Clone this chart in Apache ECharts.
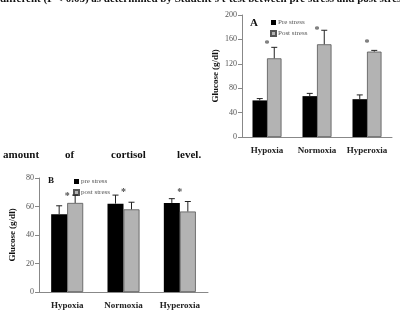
<!DOCTYPE html>
<html>
<head>
<meta charset="utf-8">
<script src="https://cdn.jsdelivr.net/npm/echarts@6/dist/echarts.min.js"></script>
<style>
  html, body { margin: 0; padding: 0; background: #fff; }
  #main { width: 400px; height: 322px; }
</style>
</head>
<body>
<div id="main"></div>
<script>
// data
var categories = ['Hypoxia', 'Normoxia', 'Hyperoxia'];

// panel A
var preA = [60, 67, 62];
var preAErr = [3, 4.5, 7];
var postA = [129, 152, 140];
var postAErr = [18, 23, 2];
var starA = [151, 174, 154];

// panel B
var preB = [54.5, 62, 62.5];
var preBErr = [6, 6, 3];
var postB = [62.5, 58, 56.5];
var postBErr = [5.5, 5, 7];
var starB = [67, 70, 70];

var serif = 'Liberation Serif';
var myChart = echarts.init(document.getElementById('main'));

function errData(vals, errs) {
    return vals.map(function (v, i) { return [i, v, errs[i]]; });
}
function starData(vals) {
    return vals.map(function (v, i) { return [i, v]; });
}

// upper whisker + cap above each bar
function makeErr(barW, side) {
    return function (params, api) {
        var c = api.value(0), v = api.value(1), e = api.value(2);
        var base = api.coord([c, v]);
        var top = api.coord([c, v + e]);
        var x = base[0] + side * barW / 2;
        return {
            type: 'group',
            children: [
                { type: 'line', shape: { x1: x, y1: base[1], x2: x, y2: top[1] },
                  style: { stroke: '#222', lineWidth: 1 } },
                { type: 'line', shape: { x1: x - 3, y1: top[1], x2: x + 3, y2: top[1] },
                  style: { stroke: '#222', lineWidth: 1 } }
            ]
        };
    };
}

function yAxisOf(gi, max, interval) {
    return {
        gridIndex: gi, type: 'value', min: 0, max: max, interval: interval,
        name: 'Glucose (g/dl)', nameLocation: 'middle', nameRotate: 90, nameGap: 22,
        nameTextStyle: { fontFamily: serif, fontWeight: 'bold', fontSize: 9, color: '#111' },
        axisLine: { show: true, lineStyle: { color: '#888' } },
        axisTick: { show: true, length: 4, lineStyle: { color: '#888' } },
        splitLine: { show: false },
        axisLabel: { fontFamily: serif, fontSize: 8, color: '#555', margin: 5 }
    };
}
function xAxisOf(gi) {
    return {
        gridIndex: gi, type: 'category', data: categories,
        axisLine: { lineStyle: { color: '#888' } },
        axisTick: { length: 3, lineStyle: { color: '#888' } },
        axisLabel: { interval: 0, fontFamily: serif, fontWeight: 'bold', fontSize: 9, color: '#222', margin: 9 }
    };
}
function legendOf(names, left, top) {
    return {
        data: names, orient: 'vertical', left: left, top: top,
        icon: 'rect', itemWidth: 5, itemHeight: 5, itemGap: 4,
        textStyle: { fontFamily: serif, fontSize: 7, color: '#555', padding: [0, 0, 0, -3] }
    };
}

var bwA = 14.5, bwB = 16;
var starLabel = { show: true, formatter: '*', position: 'inside', fontFamily: serif,
                  fontSize: 10, fontWeight: 'bold', color: '#222' };

myChart.setOption({
    animation: false,
    grid: [
        { left: 242, right: 8, top: 15, bottom: 185 },
        { left: 39, right: 192, top: 178, bottom: 30 }
    ],
    xAxis: [xAxisOf(0), xAxisOf(1)],
    yAxis: [yAxisOf(0, 200, 40), yAxisOf(1, 80, 20)],
    legend: [
        legendOf(['Pre stress', 'Post stress'], 265, 14),
        legendOf(['pre stress', 'post stress'], 68, 173)
    ],
    series: [
        { name: 'Pre stress', type: 'bar', xAxisIndex: 0, yAxisIndex: 0, data: preA,
          barWidth: bwA, barGap: 0, itemStyle: { color: '#000' } },
        { name: 'Post stress', type: 'bar', xAxisIndex: 0, yAxisIndex: 0, data: postA,
          barWidth: bwA, barGap: 0, itemStyle: { color: '#b3b3b3', borderColor: '#555', borderWidth: 0.8 } },
        { name: 'pre stress', type: 'bar', xAxisIndex: 1, yAxisIndex: 1, data: preB,
          barWidth: bwB, barGap: 0, itemStyle: { color: '#000' } },
        { name: 'post stress', type: 'bar', xAxisIndex: 1, yAxisIndex: 1, data: postB,
          barWidth: bwB, barGap: 0, itemStyle: { color: '#b3b3b3', borderColor: '#555', borderWidth: 0.8 } },
        { type: 'custom', xAxisIndex: 0, yAxisIndex: 0, renderItem: makeErr(bwA, -1),
          data: errData(preA, preAErr), z: 5 },
        { type: 'custom', xAxisIndex: 0, yAxisIndex: 0, renderItem: makeErr(bwA, 1),
          data: errData(postA, postAErr), z: 5 },
        { type: 'custom', xAxisIndex: 1, yAxisIndex: 1, renderItem: makeErr(bwB, -1),
          data: errData(preB, preBErr), z: 5 },
        { type: 'custom', xAxisIndex: 1, yAxisIndex: 1, renderItem: makeErr(bwB, 1),
          data: errData(postB, postBErr), z: 5 },
        { type: 'scatter', xAxisIndex: 0, yAxisIndex: 0, data: starData(starA), symbolSize: 0,
          label: starLabel },
        { type: 'scatter', xAxisIndex: 1, yAxisIndex: 1, data: starData(starB), symbolSize: 0,
          label: starLabel }
    ],
    graphic: [
        { type: 'text', left: 0, top: -6, style: {
            text: 'different (P < 0.05) as determined by Student\u2019s t-test between pre stress and post stres',
            fontFamily: serif, fontWeight: 'bold', fontSize: 11, fill: '#111' } },
        { type: 'text', x: 3, y: 150, style: { text: 'amount', fontFamily: serif, fontWeight: 'bold', fontSize: 11, fill: '#111' } },
        { type: 'text', x: 65, y: 150, style: { text: 'of', fontFamily: serif, fontWeight: 'bold', fontSize: 11, fill: '#111' } },
        { type: 'text', x: 111, y: 150, style: { text: 'cortisol', fontFamily: serif, fontWeight: 'bold', fontSize: 11, fill: '#111' } },
        { type: 'text', x: 177, y: 150, style: { text: 'level.', fontFamily: serif, fontWeight: 'bold', fontSize: 11, fill: '#111' } },
        { type: 'text', x: 250, y: 18, style: { text: 'A', fontFamily: serif, fontWeight: 'bold', fontSize: 11, fill: '#111' } },
        { type: 'text', x: 48, y: 176, style: { text: 'B', fontFamily: serif, fontWeight: 'bold', fontSize: 9, fill: '#111' } }
    ]
});
</script>
</body>
</html>
